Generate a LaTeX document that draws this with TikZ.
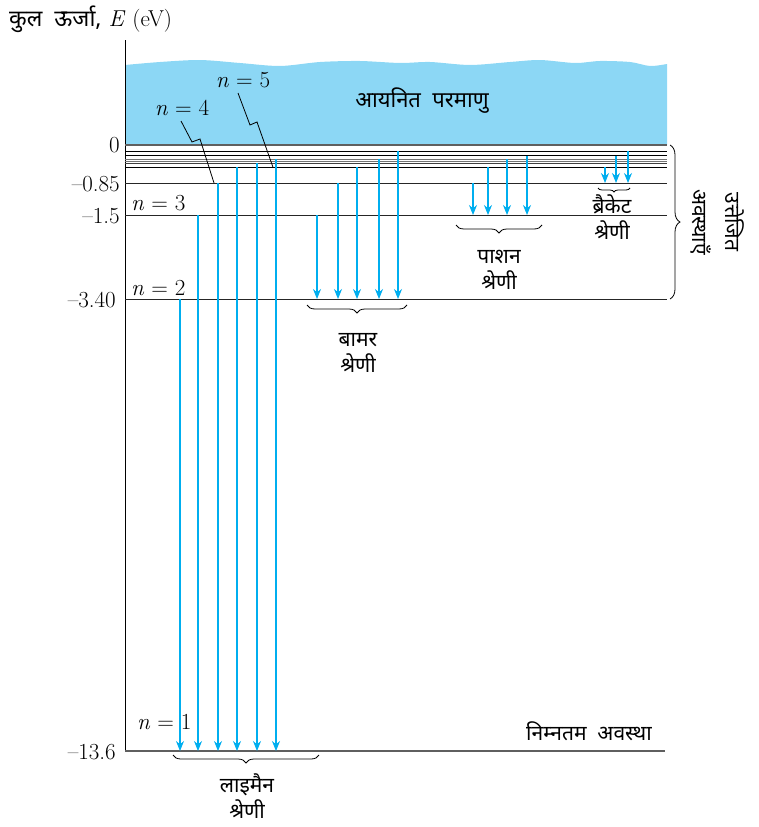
\documentclass[tikz,border=0pt]{standalone}
\usepackage{fontspec}
\newfontfamily\hindi[Script=Devanagari]{Noto Sans}
\usetikzlibrary{arrows.meta, decorations.pathreplacing}
\definecolor{ionblue}{RGB}{140,215,245}
\definecolor{rayblue}{RGB}{0,174,239}
\definecolor{lvlgray}{RGB}{95,95,95}
\tikzset{
  lvl/.style={draw=black!85, line width=0.9pt},
  ray/.style={-{Stealth[length=10pt,width=8pt]}, draw=rayblue, line width=1.1pt},
  hlabel/.style={font=\hindi\fontsize{21}{26}\selectfont, align=center, inner sep=0pt},
  numlabel/.style={font=\fontsize{23}{25}\selectfont, anchor=east, inner sep=0pt},
  nlabel/.style={font=\fontsize{23}{25}\selectfont, anchor=west, inner sep=0pt},
  brc/.style={decorate, decoration={brace, amplitude=8pt}, line width=0.8pt},
  leader/.style={line width=0.8pt},
}

\begin{document}
\begin{tikzpicture}[x=1pt, y=-1pt]
  \useasboundingbox (0,0) rectangle (759,827);
  % ionised region
  \fill[ionblue] plot[smooth] coordinates {(125,65) (160,62) (200,60) (240,63)
    (280,66) (320,62) (360,61) (400,63) (430,62) (470,65) (510,62) (540,60)
    (575,63) (600,61) (630,62) (650,66) (667,64)} -- (667,145) -- (125,145) -- cycle;
  \node[hlabel, font=\hindi\fontsize{22}{24}\selectfont] (ion) at (422,101) {आयनित\ \ परमाणु};

  % energy axis
  \draw[line width=1pt] (125,40) -- (125,751);
  \node[anchor=west, inner sep=0pt, font=\fontsize{23}{25}\selectfont] (title) at (9,19)
    {{\hindi कुल\ \ ऊर्जा,} \textit{E} (eV)};

  % levels
  \draw[draw=lvlgray, line width=2pt] (125,145) -- (667,145);
  \foreach \y/\c in {151/black, 155.7/black, 159/black!55, 161/black!55, 163.3/black!75, 167.3/black} {
    \draw[draw=\c, line width=0.8pt] (125,\y) -- (667,\y);
  }
  \draw[lvl] (125,183) -- (667,183);
  \draw[lvl] (125,215) -- (667,215);
  \draw[lvl] (125,299) -- (667,299);
  \draw[draw=lvlgray, line width=1.2pt] (125,751) -- (665,751);

  % energy values
  \node[numlabel] (e0) at (120,145) {0};
  \node[numlabel] (e4) at (120,184) {--0.85};
  \node[numlabel] (e3) at (120,216) {--1.5};
  \node[numlabel] (e2) at (116,300) {--3.40};
  \node[numlabel] (e1) at (116,752) {--13.6};

  % quantum numbers
  \node[nlabel] (n3) at (131,203) {\textit{n} = 3};
  \node[nlabel] (n2) at (131,288) {\textit{n} = 2};
  \node[nlabel] (n1) at (137,722) {\textit{n} = 1};
  \node[font=\fontsize{23}{25}\selectfont, inner sep=0pt] (n4) at (182,108) {\textit{n} = 4};
  \node[font=\fontsize{23}{25}\selectfont, inner sep=0pt] (n5) at (243,80) {\textit{n} = 5};
  \draw[leader] (181,121) -- (192,142) -- (200,139) -- (214,183);
  \draw[leader] (238,93) -- (250,125) -- (257,122) -- (273,167.3);

  % Lyman
  \foreach \x/\s in {180/299, 198/215, 218/183, 237/167.3, 257/163.3, 276/159} {
    \draw[ray] (\x,\s) -- (\x,751);
  }
  % Balmer
  \foreach \x/\s in {317/215, 338/183, 357/167.3, 379/159, 398/151} {
    \draw[ray] (\x,\s) -- (\x,299);
  }
  % Paschen
  \foreach \x/\s in {473/183, 488/167.3, 507/159, 527/155.7} {
    \draw[ray] (\x,\s) -- (\x,215);
  }
  % Brackett
  \foreach \x/\s in {605/167.3, 616/155.7, 628/151} {
    \draw[ray] (\x,\s) -- (\x,183);
  }

  % series braces and names
  \draw[brc] (319,755) -- (173,755);
  \node[hlabel] (lyman) at (247,796) {लाइमैन\\श्रेणी};
  \draw[brc] (407,305) -- (307,305);
  \node[hlabel] (balmer) at (358,353) {बामर\\श्रेणी};
  \draw[brc] (542,225) -- (456,225);
  \node[hlabel] (paschen) at (499,270) {पाशन\\श्रेणी};
  \draw[brc, decoration={brace, amplitude=4pt}] (630,188) -- (598,188);
  \node[hlabel] (brackett) at (612,217) {ब्रैकेट\\श्रेणी};

  % excited and ground states
  \draw[brc, decoration={brace, amplitude=10pt}] (670,145) -- (670,299);
  \node[hlabel, rotate=-90, font=\hindi\fontsize{21}{33}\selectfont] (excited) at (717,222) {उत्तेजित\\अवस्थाएँ};
  \node[hlabel, font=\hindi\fontsize{21}{24}\selectfont] (ground) at (589,731) {निम्नतम\ \ अवस्था};
\end{tikzpicture}
\end{document}
